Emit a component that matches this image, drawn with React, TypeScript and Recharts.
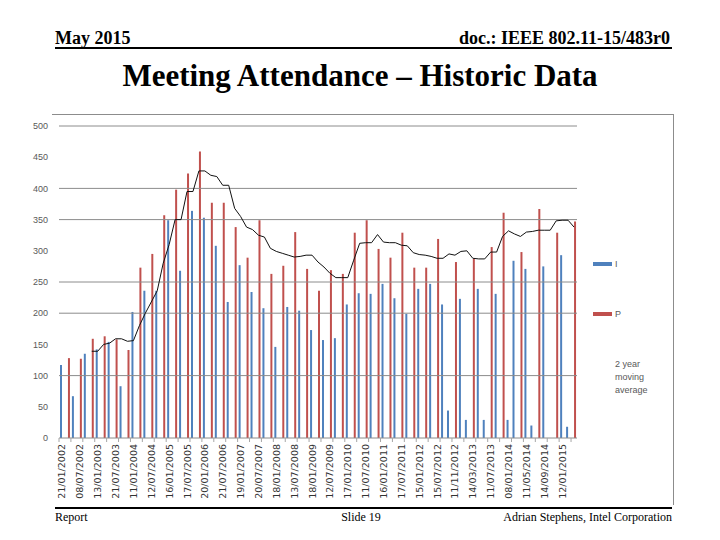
import React from "react";
import { ComposedChart, Bar, Line, XAxis, YAxis, ReferenceLine } from "recharts";

const _ = null;

// every third session gets a date label on the axis
const tickLabels = [
  "21/01/2002", "08/07/2002", "13/01/2003", "21/07/2003", "11/01/2004", "12/07/2004",
  "16/01/2005", "17/07/2005", "20/01/2006", "21/07/2006", "19/01/2007", "20/07/2007",
  "18/01/2008", "13/07/2008", "18/01/2009", "12/07/2009", "17/01/2010", "11/07/2010",
  "16/01/2011", "17/07/2011", "15/01/2012", "15/07/2012", "11/11/2012", "14/03/2013",
  "11/07/2013", "08/01/2014", "11/05/2014", "14/09/2014", "12/01/2015",
];
const LABEL_EVERY = 3;

// interim sessions
const interim = [
  117, _, 67, _, 135, _, 142, _, 154, _,
  83, _, 202, _, 236, _, 236, _, 349, _,
  268, _, 364, _, 353, _, 308, _, 218, _,
  277, _, 234, _, 208, _, 146, _, 210, _,
  204, _, 173, _, 157, _, 160, _, 214, _,
  232, _, 231, _, 247, _, 224, _, 199, _,
  239, _, 247, _, 214, 44, _, 223, 29, _,
  239, 29, _, 231, _, 29, 284, _, 271, 20,
  _, 275, _, _, 293, 18, _,
];

// plenary sessions
const plenary = [
  _, 128, _, 127, _, 159, _, 163, _, 158,
  _, 141, _, 273, _, 295, _, 357, _, 398,
  _, 424, _, 459, _, 377, _, 377, _, 338,
  _, 289, _, 349, _, 263, _, 276, _, 330,
  _, 271, _, 236, _, 269, _, 263, _, 329,
  _, 349, _, 303, _, 289, _, 329, _, 273,
  _, 273, _, 319, _, _, 282, _, _, 287,
  _, _, 306, _, 361, _, _, 298, _, _,
  367, _, _, 329, _, _, 347,
];

// 2 year moving average
const movingAverage = [
  _, _, _, _, _, 139, 139, 150, 152, 159,
  159, 155, 156, 180, 200, 218, 236, 280, 310, 350,
  350, 395, 395, 428, 428, 421, 419, 405, 405, 368,
  355, 338, 334, 325, 322, 304, 299, 296, 293, 290,
  291, 293, 293, 282, 274, 264, 257, 257, 257, 285,
  312, 313, 313, 326, 314, 313, 313, 309, 308, 297,
  294, 293, 291, 288, 288, 295, 293, 299, 300, 288,
  287, 287, 298, 298, 323, 332, 327, 323, 330, 331,
  333, 333, 333, 348, 349, 349, 338,
];

const Y_MAX = 500;
const yTicks = [0, 50, 100, 150, 200, 250, 300, 350, 400, 450, 500];
// only these gridlines survive in the slide picture
const gridValues = [100, 200, 250, 350, 400, 500];

const data = interim.map((v, i) => ({
  idx: i,
  I: v,
  P: plenary[i],
  avg: movingAverage[i],
}));

const BLUE = "#4F81BD";
const RED = "#C0504D";
const GRID = "#8c8c8c";

const MARGIN = { top: 126, right: 143, bottom: 32, left: 29 };
const Y_AXIS_W = 30;
const X_AXIS_H = 70;
const PLOT_W = 720 - MARGIN.left - MARGIN.right - Y_AXIS_W;
const BAND = PLOT_W / data.length;

const SessionTick = (props: any) => {
  const { x, y, payload } = props;
  const i = Number(payload.value);
  const label = i % LABEL_EVERY === 0 ? tickLabels[i / LABEL_EVERY] : null;
  const axisY = y - 6;
  const bx = x - BAND / 2;
  return (
    <g>
      {i % 2 === 0 && <line x1={bx} x2={bx} y1={axisY} y2={axisY + 4} stroke="#a6a6a6" />}
      {label && (
        <text
          x={x}
          y={y}
          transform={`rotate(-90 ${x} ${y})`}
          textAnchor="end"
          dominantBaseline="central"
          fontSize={9.5}
          fontFamily="DejaVu Sans"
          fill="#333"
        >
          {label}
        </text>
      )}
    </g>
  );
};

const serif = "'Liberation Serif', 'Times New Roman', serif";
const sans = "'Liberation Sans', Arial, sans-serif";

export default function App() {
  return (
    <div style={{ position: "absolute", left: 0, top: 0, width: 720, height: 540, background: "#fff" }}>
      <ComposedChart width={720} height={540} data={data} margin={MARGIN} barGap={0} barSize={2}>
        {gridValues.map((v) => (
          <ReferenceLine key={v} y={v} stroke={GRID} />
        ))}
        <XAxis
          dataKey="idx"
          type="category"
          interval={0}
          height={X_AXIS_H}
          axisLine={{ stroke: GRID }}
          tickLine={false}
          tickSize={0}
          tickMargin={6}
          tick={<SessionTick />}
        />
        <YAxis
          domain={[0, Y_MAX]}
          ticks={yTicks}
          width={Y_AXIS_W}
          axisLine={false}
          tickLine={false}
          tickSize={0}
          tickMargin={11}
          tick={{ fontSize: 9, fill: "#595959", fontFamily: sans }}
        />
        <Bar dataKey="I" name="I" fill={BLUE} isAnimationActive={false} />
        <Bar dataKey="P" name="P" fill={RED} isAnimationActive={false} />
        <Line
          dataKey="avg"
          name="2 year moving average"
          type="linear"
          stroke="#111"
          strokeWidth={1}
          dot={false}
          activeDot={false}
          isAnimationActive={false}
        />
      </ComposedChart>

      <svg width={720} height={540} style={{ position: "absolute", left: 0, top: 0, pointerEvents: "none" }}>
        {/* slide header */}
        <text x={55} y={44} fontFamily={serif} fontWeight="bold" fontSize={18}>May 2015</text>
        <text x={670} y={44} fontFamily={serif} fontWeight="bold" fontSize={18} textAnchor="end">
          doc.: IEEE 802.11-15/483r0
        </text>
        <rect x={55} y={47} width={617} height={2} fill="#000" />
        <text x={360} y={86} fontFamily={serif} fontWeight="bold" fontSize={31} textAnchor="middle">
          Meeting Attendance – Historic Data
        </text>

        {/* chart frame */}
        <line x1={52} x2={673} y1={114.5} y2={114.5} stroke={GRID} />
        <line x1={673.5} x2={673.5} y1={114} y2={505} stroke={GRID} />

        {/* legend */}
        <rect x={593} y={262} width={19} height={4} fill={BLUE} />
        <text x={615} y={267} fontFamily={sans} fontSize={9} fill="#595959">I</text>
        <rect x={593} y={312} width={19} height={4} fill={RED} />
        <text x={615} y={317} fontFamily={sans} fontSize={9} fill="#595959">P</text>
        <text x={615} y={367} fontFamily={sans} fontSize={9} fill="#595959">2 year</text>
        <text x={615} y={380} fontFamily={sans} fontSize={9} fill="#595959">moving</text>
        <text x={615} y={393} fontFamily={sans} fontSize={9} fill="#595959">average</text>

        {/* slide footer */}
        <rect x={55} y={507} width={617} height={2} fill="#000" />
        <text x={55} y={521} fontFamily={serif} fontSize={12}>Report</text>
        <text x={361} y={521} fontFamily={serif} fontSize={12} textAnchor="middle">Slide 19</text>
        <text x={672} y={521} fontFamily={serif} fontSize={12} textAnchor="end">
          Adrian Stephens, Intel Corporation
        </text>
      </svg>
    </div>
  );
}
